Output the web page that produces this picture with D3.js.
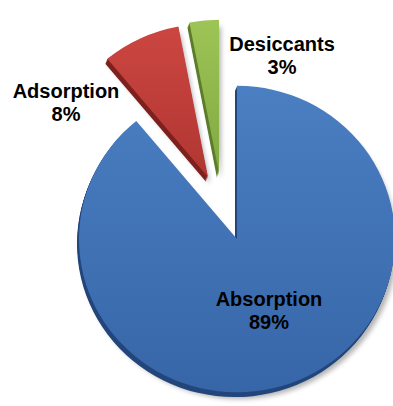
<!DOCTYPE html>
<html>
<head>
<meta charset="utf-8">
<script src="https://cdn.jsdelivr.net/npm/d3@7/dist/d3.min.js"></script>
<style>
  html, body { margin: 0; padding: 0; background: #fff; }
  svg { display: block; }
  text { font-family: "Liberation Sans", Arial, sans-serif; font-weight: bold; fill: #000; }
</style>
</head>
<body>
<svg id="chart" width="393" height="406"></svg>
<script>
// Shares of dehumidification technology
const categories = ["Absorption", "Adsorption", "Desiccants"];
const values = [89, 8, 3];

// Slice styling: face gradient (top, bottom) and side colour
const faceTop = ["#4a7fc2", "#cc4641", "#9dc456"];
const faceBottom = ["#3766a8", "#b03632", "#80a941"];
const sideColor = ["#23467c", "#7e211e", "#5d7d2c"];
// How far each slice is pulled out of the pie
const explode = [[0, 0], [-29, -64], [-18, -68]];
// Label anchors (name line baseline)
const labelPos = [[269, 306], [66, 98], [282, 51]];

const W = 393, H = 406;
const cx = 237, cy = 239, R = 158, squash = 0.97, depth = 5;

const svg = d3.select("#chart");
const defs = svg.append("defs");

categories.forEach((c, i) => {
  const g = defs.append("linearGradient")
    .attr("id", "face" + i).attr("x1", 0).attr("y1", 0).attr("x2", 0).attr("y2", 1);
  g.append("stop").attr("offset", "0%").attr("stop-color", faceTop[i]);
  g.append("stop").attr("offset", "100%").attr("stop-color", faceBottom[i]);
});
defs.append("filter").attr("id", "soft").attr("x", "-20%").attr("y", "-20%")
  .attr("width", "140%").attr("height", "140%")
  .append("feGaussianBlur").attr("stdDeviation", 2.5);

const pie = d3.pie().sort(null).value(d => d).startAngle(0).endAngle(2 * Math.PI);
const arcs = pie(values);
const arc = d3.arc().innerRadius(0).outerRadius(R);

const root = svg.append("g").attr("transform", `translate(${cx},${cy}) scale(1,${squash})`);

// drop shadow under the pie
root.selectAll("path.shadow").data(arcs).join("path")
  .attr("class", "shadow")
  .attr("d", arc)
  .attr("fill", "#000").attr("opacity", 0.3)
  .attr("filter", "url(#soft)")
  .attr("transform", (d, i) => `translate(${explode[i][0] + 2},${explode[i][1] + depth + 2})`);

// extruded sides
const sideLayers = d3.range(depth, 0, -1);
arcs.forEach((d, i) => {
  root.append("g").selectAll("path").data(sideLayers).join("path")
    .attr("d", arc(d))
    .attr("fill", sideColor[i])
    .attr("transform", k => `translate(${explode[i][0] - k * 0.4},${explode[i][1] + k})`);
});

// top faces
root.selectAll("path.face").data(arcs).join("path")
  .attr("class", "face")
  .attr("d", arc)
  .attr("fill", (d, i) => `url(#face${i})`)
  .attr("transform", (d, i) => `translate(${explode[i][0]},${explode[i][1]})`);

// labels
const labels = svg.append("g").selectAll("text").data(arcs).join("text")
  .attr("text-anchor", "middle")
  .attr("font-size", 20)
  .attr("x", (d, i) => labelPos[i][0])
  .attr("y", (d, i) => labelPos[i][1]);
labels.append("tspan").text((d, i) => categories[i]);
labels.append("tspan")
  .attr("x", (d, i) => labelPos[i][0])
  .attr("dy", 22.5)
  .text(d => d.data + "%");
</script>
</body>
</html>
